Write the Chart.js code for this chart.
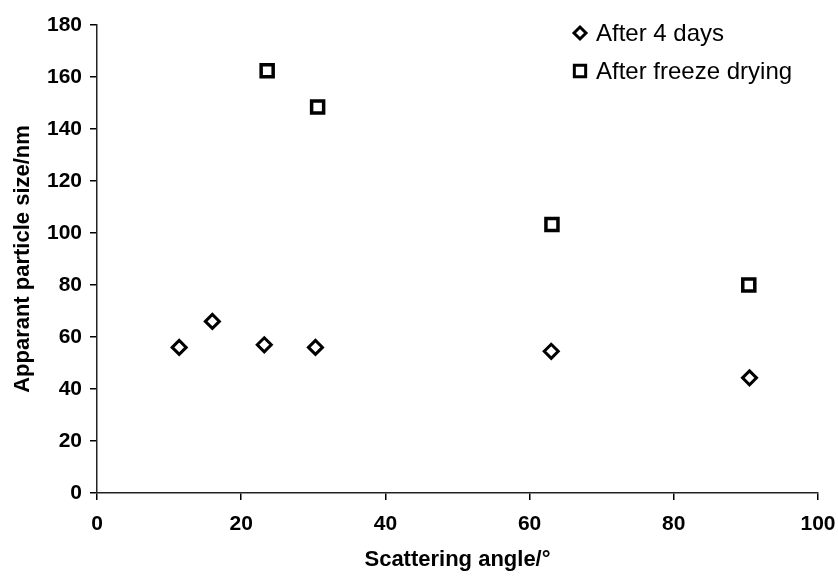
<!DOCTYPE html>
<html>
<head>
<meta charset="utf-8">
<title>Apparent particle size vs scattering angle</title>
<script src="https://cdn.jsdelivr.net/npm/chart.js@4/dist/chart.umd.min.js"></script>
<style>
  html, body { margin: 0; padding: 0; background: #fff; }
  #wrap { width: 838px; height: 578px; position: relative; }
</style>
</head>
<body>
<div id="wrap"><canvas id="chart" width="838" height="578"></canvas></div>
<script>
// --- Data ---
const daysAngles = [11.4, 16.0, 23.2, 30.3, 63.0, 90.5];
const daysSizes  = [56.0, 66.0, 57.0, 56.0, 54.5, 44.3];
const freezeAngles = [23.6, 30.6, 63.1, 90.4];
const freezeSizes  = [162.4, 148.5, 103.3, 80.0];

const seriesLabels = ['After 4 days', 'After freeze drying'];
const xTitle = 'Scattering angle/°';
const yTitle = 'Apparant particle size/nm';

const toPoints = (xs, ys) => xs.map((x, i) => ({ x: x, y: ys[i] }));

// Legend drawn inside the plot, top right, like the original
const innerLegend = {
  id: 'innerLegend',
  afterDraw(chart) {
    const ctx = chart.ctx;
    const rows = [33, 71];
    ctx.save();
    chart.data.datasets.forEach((ds, i) => {
      ctx.fillStyle = '#fff';
      ctx.strokeStyle = '#000';
      ctx.lineWidth = 3;
      Chart.helpers.drawPoint(ctx, {
        pointStyle: ds.pointStyle,
        radius: ds.pointStyle === 'rectRot' ? 6 : 8,
        borderWidth: 3
      }, 580, rows[i]);
      ctx.fillStyle = '#000';
      ctx.font = '24px "Liberation Sans", Arial, sans-serif';
      ctx.textBaseline = 'middle';
      ctx.textAlign = 'left';
      ctx.fillText(ds.label, 596, rows[i] + 1);
    });
    ctx.restore();
  }
};

const tickFont = { family: '"Liberation Sans", Arial, sans-serif', size: 21, weight: 'bold' };
const titleFont = { family: '"Liberation Sans", Arial, sans-serif', size: 22, weight: 'bold' };

new Chart(document.getElementById('chart'), {
  type: 'scatter',
  data: {
    datasets: [
      {
        label: seriesLabels[0],
        data: toPoints(daysAngles, daysSizes),
        pointStyle: 'rectRot',
        pointRadius: 7,
        pointBorderWidth: 3,
        borderColor: '#000',
        backgroundColor: '#fff'
      },
      {
        label: seriesLabels[1],
        data: toPoints(freezeAngles, freezeSizes),
        pointStyle: 'rect',
        pointRadius: 8.5,
        pointBorderWidth: 3.5,
        borderColor: '#000',
        backgroundColor: '#fff'
      }
    ]
  },
  options: {
    responsive: false,
    animation: false,
    layout: { padding: { top: 25, right: 20, left: 0, bottom: 0 } },
    plugins: {
      legend: { display: false },
      tooltip: { enabled: false }
    },
    scales: {
      x: {
        type: 'linear',
        min: 0,
        max: 100,
        ticks: { stepSize: 20, color: '#000', font: tickFont, padding: 12 },
        grid: { drawOnChartArea: false, drawTicks: true, tickLength: 7, color: '#000', lineWidth: 1.5 },
        border: { display: true, color: '#222', width: 1.5 },
        title: { display: true, text: xTitle, color: '#000', font: titleFont, padding: { top: 0, bottom: 5 } },
        afterFit(scale) {
          scale.height = 85;
          // tick padding is otherwise added to the side overhang
          scale.paddingRight = 18;
          scale.paddingLeft = 0;
        }
      },
      y: {
        type: 'linear',
        min: 0,
        max: 180,
        ticks: { stepSize: 20, color: '#000', font: tickFont, padding: 8 },
        grid: { drawOnChartArea: false, drawTicks: true, tickLength: 7, color: '#000', lineWidth: 1.5 },
        border: { display: true, color: '#222', width: 1.5 },
        title: { display: true, text: yTitle, color: '#000', font: titleFont, padding: { top: 10, bottom: 0 } },
        afterFit(scale) { scale.width = 97; }
      }
    }
  },
  plugins: [innerLegend]
});
</script>
</body>
</html>
